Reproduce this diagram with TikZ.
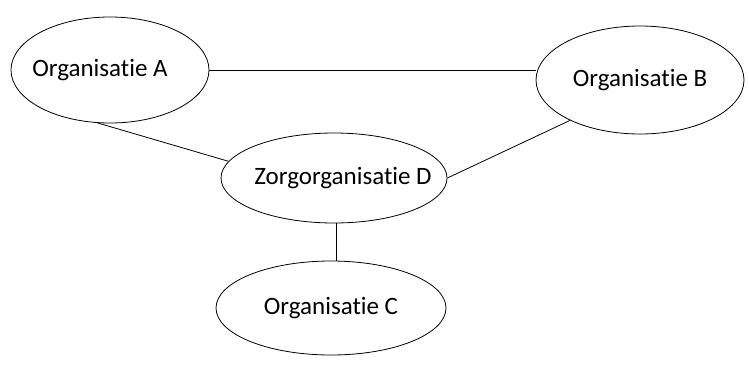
\documentclass[tikz,border=0pt]{standalone}
\usepackage{fontspec}
\setmainfont{Carlito}[Ligatures={NoCommon,NoContextual}]
\usetikzlibrary{shapes.geometric}

\begin{document}
\begin{tikzpicture}[x=1pt,y=-1pt,
    org/.style={ellipse,draw,line width=0.8pt,inner sep=0pt,font=\fontsize{25}{30}\selectfont}]

    \useasboundingbox (0,0) rectangle (749,365);
\node[org,minimum width=198pt,minimum height=106pt] (a) at (110,70) {\makebox[0pt]{Organisatie A\hspace*{20pt}}};
\node[org,minimum width=208pt,minimum height=108pt] (b) at (640,80) {\makebox[0pt]{Organisatie B}};
\node[org,minimum width=226pt,minimum height=90pt] (d) at (334,178) {\makebox[0pt]{\hspace*{18pt}Zorgorganisatie D}};
\node[org,minimum width=230pt,minimum height=94pt] (c) at (331,308) {\makebox[0pt]{Organisatie C}};
\draw[line width=0.8pt] (a.east) -- (a.east -| b.west) ;
\draw[line width=0.8pt] (a.257) -- (d.171) ;
\draw[line width=0.8pt] (b.210) -- (d.east) ;
\draw[line width=0.8pt] (d.273) -- (d.273 |- c.north) ;

  \end{tikzpicture}
\end{document}
